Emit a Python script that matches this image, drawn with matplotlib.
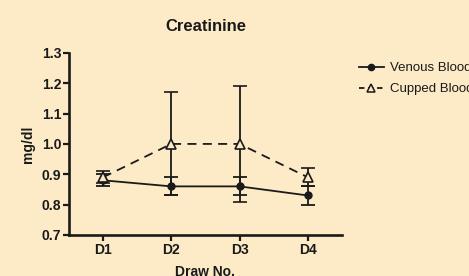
"""Creatinine levels, venous vs cupped blood, per draw."""

import matplotlib

matplotlib.use("Agg")
import matplotlib.pyplot as plt
from matplotlib.lines import Line2D

draws = ["D1", "D2", "D3", "D4"]
venous_mean = [0.88, 0.86, 0.86, 0.83]
venous_err = [0.02, 0.03, 0.03, 0.03]
cupped_mean = [0.89, 1.00, 1.00, 0.89]
cupped_err = [0.02, 0.17, 0.19, 0.03]
y_ticks = [0.7, 0.8, 0.9, 1.0, 1.1, 1.2, 1.3]

BG = "#FDEBC8"
INK = "#1a1a1a"
DASH = (0, (5, 3.5))

plt.rcParams["font.family"] = ["Liberation Sans", "DejaVu Sans"]

fig = plt.figure(figsize=(4.69, 2.76), dpi=100, facecolor=BG)
ax = fig.add_axes([0.147, 0.149, 0.582, 0.659], facecolor=BG)

x = list(range(1, len(draws) + 1))

ax.errorbar(x, venous_mean, yerr=venous_err, color=INK, lw=1.3,
            marker="o", ms=5, mfc=INK, mec=INK,
            capsize=5, capthick=1.3, elinewidth=1.3)
ax.errorbar(x, cupped_mean, yerr=cupped_err, color=INK, lw=1.3, ls=DASH,
            marker="^", ms=6.5, mfc=BG, mec=INK, mew=1.2,
            capsize=5, capthick=1.3, elinewidth=1.3)

ax.set_xlim(0.5, 4.5)
ax.set_ylim(0.7, 1.3)
ax.set_xticks(x)
ax.set_xticklabels(draws)
ax.set_yticks(y_ticks)
ax.set_yticklabels([f"{v:.1f}" for v in y_ticks])

for side in ("top", "right"):
    ax.spines[side].set_visible(False)
for side in ("left", "bottom"):
    ax.spines[side].set_linewidth(1.9)
    ax.spines[side].set_color(INK)
ax.tick_params(direction="out", length=4, width=1.6, color=INK, pad=1.5)
for lab in ax.get_xticklabels() + ax.get_yticklabels():
    lab.set_fontsize(10)
    lab.set_fontweight("bold")
    lab.set_color(INK)

ax.set_title("Creatinine", fontsize=12, fontweight="bold", color=INK, pad=16)
ax.set_ylabel("mg/dl", fontsize=10, fontweight="bold", color=INK, labelpad=5)
ax.set_xlabel("Draw No.", fontsize=10, fontweight="bold", color=INK, labelpad=6)

handles = [
    Line2D([], [], color=INK, lw=1.3, marker="o", ms=4.5, mfc=INK),
    Line2D([], [], color=INK, lw=1.3, ls=(0, (3, 2)), marker="^", ms=5.5,
           mfc=BG, mec=INK, mew=1.1),
]
leg = fig.legend(handles, ["Venous Blood", "Cupped Blood"], loc="upper left",
                 bbox_to_anchor=(0.765, 0.775), frameon=False, fontsize=9.5,
                 handlelength=1.9, handletextpad=0.45, labelspacing=0.65,
                 borderaxespad=0, borderpad=0)
for t in leg.get_texts():
    t.set_color(INK)

fig.savefig("out.png", dpi=100, facecolor=BG)
